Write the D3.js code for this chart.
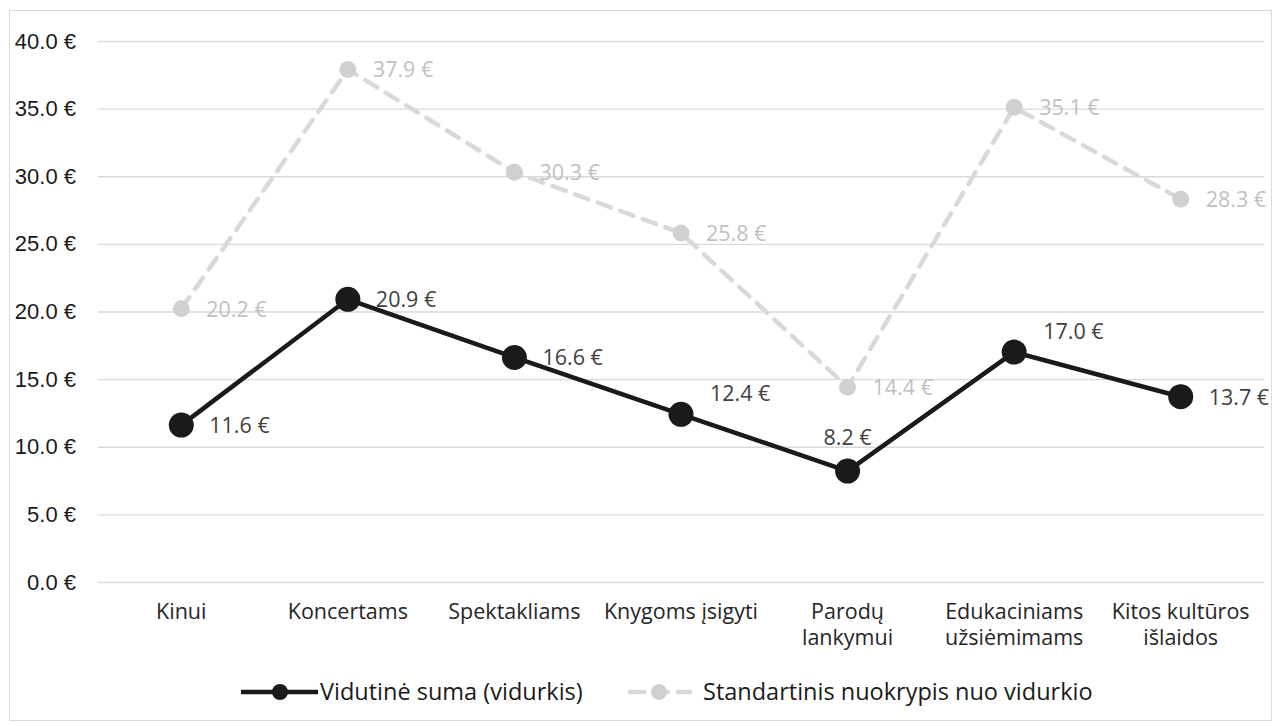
<!DOCTYPE html>
<html><head><meta charset="utf-8">
<script src="https://cdn.jsdelivr.net/npm/d3@7"></script>
<style>body{margin:0;background:#fff}svg{display:block;font-family:"Open Sans",sans-serif}</style>
</head><body><svg id="c" width="1281" height="726"></svg>
<script>
const categories = [["Kinui"],["Koncertams"],["Spektakliams"],["Knygoms įsigyti"],["Parodų","lankymui"],["Edukaciniams","užsiėmimams"],["Kitos kultūros","išlaidos"]];
const meanValues = [11.6, 20.9, 16.6, 12.4, 8.2, 17.0, 13.7];
const stdValues = [20.2, 37.9, 30.3, 25.8, 14.4, 35.1, 28.3];
const yTicks = [0,5,10,15,20,25,30,35,40];
const seriesNames = ["Vidutinė suma (vidurkis)", "Standartinis nuokrypis nuo vidurkio"];
// label placement for mean series
const meanLabelPos = ["right","right","right","aboveRight","above","aboveRight","right"];

const svg = d3.select("#c");
svg.append("rect").attr("x",9.5).attr("y",10.5).attr("width",1262).attr("height",710)
  .attr("fill","#fff").attr("stroke","#d9d9d9").attr("stroke-width",1);

const pLeft = 98, pRight = 1264, pTop = 41, pBottom = 582;
const x = d3.scaleBand().domain(d3.range(categories.length)).range([pLeft,pRight]);
const y = d3.scaleLinear().domain([0,40]).range([pBottom,pTop]);
const cx = i => x(i) + x.bandwidth()/2;
const fmt = v => d3.format(".1f")(v) + " €";
const FS = 21.5;

// grid
svg.append("g").selectAll("line").data(yTicks).join("line")
  .attr("x1",pLeft).attr("x2",pRight).attr("y1",d=>y(d)+0.5).attr("y2",d=>y(d)+0.5)
  .attr("stroke","#d9d9d9").attr("stroke-width",1.3);

// y axis labels
const yAxis = d3.axisLeft(y).tickValues(yTicks).tickSize(0).tickPadding(0).tickFormat(fmt);
const ga = svg.append("g").attr("transform",`translate(76,0)`).call(yAxis);
ga.select(".domain").remove();
ga.selectAll("text").attr("font-size",22).attr("fill","#1a1a1a").attr("font-family","'Liberation Sans',Arial,sans-serif");

// x labels
const gx = svg.append("g");
categories.forEach((lines,i)=>{
  const t = gx.append("text").attr("x",cx(i)).attr("y",619).attr("text-anchor","middle")
    .attr("font-size",FS).attr("fill","#262626").attr("font-family","'Open Sans',sans-serif");
  lines.forEach((l,j)=>t.append("tspan").attr("x",cx(i)).attr("dy",j===0?0:26).text(l));
});

const line = d3.line().x((d,i)=>cx(i)).y(d=>y(d));

// std series
svg.append("path").datum(stdValues).attr("d",line).attr("fill","none")
  .attr("stroke","#d9d9d9").attr("stroke-width",4.5).attr("stroke-dasharray","14,10").attr("stroke-linecap","round");
svg.append("g").selectAll("circle").data(stdValues).join("circle")
  .attr("cx",(d,i)=>cx(i)).attr("cy",d=>y(d)).attr("r",8.5).attr("fill","#d0d0d0");
svg.append("g").selectAll("text").data(stdValues).join("text")
  .attr("x",(d,i)=>cx(i)+25).attr("y",d=>y(d)+8).attr("font-size",FS).attr("fill","#bfbfbf")
  .attr("font-family","'Open Sans',sans-serif").text(fmt);

// mean series
svg.append("path").datum(meanValues).attr("d",line).attr("fill","none")
  .attr("stroke","#1a1a1a").attr("stroke-width",4.5).attr("stroke-linejoin","round");
svg.append("g").selectAll("circle").data(meanValues).join("circle")
  .attr("cx",(d,i)=>cx(i)).attr("cy",d=>y(d)).attr("r",12.5).attr("fill","#1a1a1a");
const lx = {right:28, aboveRight:29, above:0};
const lyo = {right:8, aboveRight:-13, above:-26};
svg.append("g").selectAll("text").data(meanValues).join("text")
  .attr("x",(d,i)=>cx(i)+lx[meanLabelPos[i]])
  .attr("y",(d,i)=>y(d)+lyo[meanLabelPos[i]])
  .attr("text-anchor",(d,i)=>meanLabelPos[i]==="above"?"middle":"start")
  .attr("font-size",FS).attr("fill","#404040").attr("font-family","'Open Sans',sans-serif").text(fmt);

// legend
const lg = svg.append("g");
const ly = 692;
lg.append("line").attr("x1",241).attr("x2",318).attr("y1",ly).attr("y2",ly).attr("stroke","#1a1a1a").attr("stroke-width",4.5);
lg.append("circle").attr("cx",280).attr("cy",ly).attr("r",8).attr("fill","#1a1a1a");
lg.append("text").attr("x",320).attr("y",ly+8).attr("font-size",23.5).attr("fill","#1a1a1a").attr("font-family","'Open Sans',sans-serif").text(seriesNames[0]);
lg.append("line").attr("x1",630).attr("x2",690).attr("y1",ly).attr("y2",ly).attr("stroke","#d9d9d9").attr("stroke-width",4.5).attr("stroke-dasharray","14,10").attr("stroke-linecap","round");
lg.append("circle").attr("cx",659).attr("cy",ly).attr("r",8).attr("fill","#d0d0d0");
lg.append("text").attr("x",703).attr("y",ly+8).attr("font-size",23.5).attr("fill","#1a1a1a").attr("font-family","'Open Sans',sans-serif").text(seriesNames[1]);
</script></body></html>
